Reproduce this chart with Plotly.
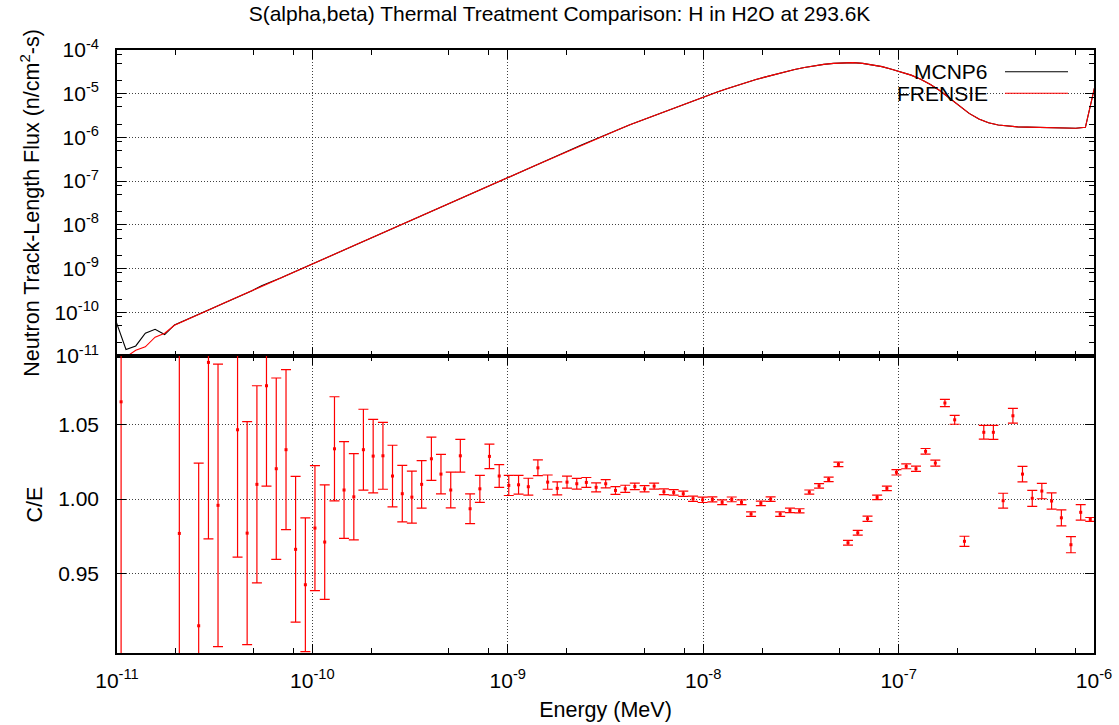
import plotly.graph_objects as go

# ---------------- data ----------------
# bin-edge energies (log10 of MeV) used for the flux curves
log10_energy_edges = [
    -11.004, -10.954, -10.904, -10.855, -10.805, -10.756, -10.706, -10.656, -10.607, -10.557,
    -10.508, -10.458, -10.408, -10.359, -10.309, -10.260, -10.210, -10.160, -10.111, -10.061,
    -10.012, -9.962, -9.912, -9.863, -9.813, -9.764, -9.714, -9.664, -9.615, -9.565,
    -9.516, -9.466, -9.416, -9.367, -9.317, -9.268, -9.218, -9.168, -9.119, -9.069,
    -9.020, -8.970, -8.920, -8.871, -8.821, -8.772, -8.722, -8.672, -8.623, -8.573,
    -8.524, -8.474, -8.424, -8.375, -8.325, -8.276, -8.226, -8.176, -8.127, -8.077,
    -8.028, -7.978, -7.928, -7.879, -7.829, -7.780, -7.730, -7.680, -7.631, -7.581,
    -7.532, -7.482, -7.432, -7.383, -7.333, -7.284, -7.234, -7.184, -7.135, -7.085,
    -7.036, -6.986, -6.936, -6.887, -6.837, -6.788, -6.738, -6.688, -6.639, -6.589,
    -6.540, -6.490, -6.440, -6.391, -6.341, -6.292, -6.242, -6.192, -6.143, -6.093,
    -6.044, -5.994,
]

# bin-centre energies (log10 of MeV) used for the C/E points
log10_energy_mid = [
    -10.979, -10.929, -10.879, -10.830, -10.780, -10.731, -10.681, -10.631, -10.582, -10.532,
    -10.483, -10.433, -10.383, -10.334, -10.284, -10.235, -10.185, -10.135, -10.086, -10.036,
    -9.987, -9.937, -9.887, -9.838, -9.788, -9.739, -9.689, -9.639, -9.590, -9.540,
    -9.491, -9.441, -9.391, -9.342, -9.292, -9.243, -9.193, -9.143, -9.094, -9.044,
    -8.995, -8.945, -8.895, -8.846, -8.796, -8.747, -8.697, -8.647, -8.598, -8.548,
    -8.499, -8.449, -8.399, -8.350, -8.300, -8.251, -8.201, -8.151, -8.102, -8.052,
    -8.003, -7.953, -7.903, -7.854, -7.804, -7.755, -7.705, -7.655, -7.606, -7.556,
    -7.507, -7.457, -7.407, -7.358, -7.308, -7.259, -7.209, -7.159, -7.110, -7.060,
    -7.011, -6.961, -6.911, -6.862, -6.812, -6.763, -6.713, -6.663, -6.614, -6.564,
    -6.515, -6.465, -6.415, -6.366, -6.316, -6.267, -6.217, -6.167, -6.118, -6.068,
    -6.019,
]

flux_mcnp6 = [
    6.0e-11, 1.41e-11, 1.70e-11, 3.31e-11, 4.07e-11, 3.09e-11, 5.13e-11, 6.43e-11, 8.05e-11, 1.01e-10,
    1.26e-10, 1.58e-10, 1.99e-10, 2.55e-10, 3.12e-10, 4.05e-10, 4.90e-10, 6.14e-10, 7.69e-10, 9.64e-10,
    1.21e-9, 1.51e-9, 1.90e-9, 2.38e-9, 2.98e-9, 3.73e-9, 4.68e-9, 5.86e-9, 7.35e-9, 9.20e-9,
    1.15e-8, 1.45e-8, 1.81e-8, 2.27e-8, 2.84e-8, 3.56e-8, 4.47e-8, 5.60e-8, 7.01e-8, 8.79e-8,
    1.10e-7, 1.38e-7, 1.73e-7, 2.17e-7, 2.72e-7, 3.40e-7, 4.27e-7, 5.35e-7, 6.70e-7, 8.39e-7,
    1.05e-6, 1.29e-6, 1.58e-6, 1.95e-6, 2.37e-6, 2.88e-6, 3.51e-6, 4.27e-6, 5.19e-6, 6.31e-6,
    7.59e-6, 9.12e-6, 1.10e-5, 1.30e-5, 1.55e-5, 1.82e-5, 2.11e-5, 2.43e-5, 2.79e-5, 3.16e-5,
    3.59e-5, 3.98e-5, 4.37e-5, 4.68e-5, 4.95e-5, 5.13e-5, 5.13e-5, 4.95e-5, 4.62e-5, 4.17e-5,
    3.63e-5, 3.13e-5, 2.66e-5, 2.14e-5, 1.62e-5, 1.17e-5, 7.94e-6, 5.25e-6, 3.55e-6, 2.63e-6,
    2.16e-6, 1.93e-6, 1.80e-6, 1.74e-6, 1.72e-6, 1.70e-6, 1.68e-6, 1.66e-6, 1.62e-6, 1.62e-6,
    1.70e-6, 1.6e-5,
]

flux_frensie = [
    5.0e-12, 9.5e-12, 1.35e-11, 1.62e-11, 2.69e-11, 3.31e-11, 5.05e-11, 6.43e-11, 8.05e-11, 1.01e-10,
    1.26e-10, 1.58e-10, 1.99e-10, 2.45e-10, 3.12e-10, 3.85e-10, 4.90e-10, 6.14e-10, 7.69e-10, 9.64e-10,
    1.21e-9, 1.51e-9, 1.90e-9, 2.38e-9, 2.98e-9, 3.73e-9, 4.68e-9, 5.86e-9, 7.35e-9, 9.20e-9,
    1.15e-8, 1.45e-8, 1.81e-8, 2.27e-8, 2.84e-8, 3.56e-8, 4.47e-8, 5.60e-8, 7.01e-8, 8.79e-8,
    1.10e-7, 1.38e-7, 1.73e-7, 2.17e-7, 2.72e-7, 3.40e-7, 4.27e-7, 5.35e-7, 6.70e-7, 8.39e-7,
    1.05e-6, 1.29e-6, 1.58e-6, 1.95e-6, 2.37e-6, 2.88e-6, 3.51e-6, 4.27e-6, 5.19e-6, 6.31e-6,
    7.59e-6, 9.12e-6, 1.10e-5, 1.30e-5, 1.55e-5, 1.82e-5, 2.11e-5, 2.43e-5, 2.79e-5, 3.16e-5,
    3.59e-5, 3.98e-5, 4.37e-5, 4.68e-5, 4.95e-5, 5.13e-5, 5.13e-5, 4.95e-5, 4.62e-5, 4.17e-5,
    3.63e-5, 3.13e-5, 2.66e-5, 2.14e-5, 1.62e-5, 1.17e-5, 7.94e-6, 5.25e-6, 3.55e-6, 2.63e-6,
    2.16e-6, 1.93e-6, 1.80e-6, 1.74e-6, 1.72e-6, 1.70e-6, 1.68e-6, 1.66e-6, 1.62e-6, 1.62e-6,
    1.70e-6, 1.6e-5,
]

# C/E ratio and its 1-sigma uncertainty (None = point outside the plotted range)
ratio_ce = [
    1.0654, None, None, None, None, None, 0.9769, None, 0.9148, 1.0919,
    0.9958, None, 1.0466, 0.9771, 1.0099, 1.0762, 1.0204, 1.0332, 0.9662, 0.9424,
    0.9805, 0.9711, 1.0338, 1.0061, 1.0015, 1.0332, 1.0289, 1.0291, 1.0155, 1.0036,
    1.0013, 1.0099, 1.0271, 1.0168, 1.0061, 1.0291, 0.9935, 1.0069, 1.0287, 1.0155,
    1.0092, 1.0096, 1.0083, 1.0210, 1.0114, 1.0072, 1.0114, 1.0103, 1.0112, 1.0079,
    1.0103, 1.0058, 1.0069, 1.0085, 1.0069, 1.0087, 1.0049, 1.0045, 1.0036, 1.0002,
    0.9995, 0.9998, 0.9978, 0.9998, 0.9978, 0.9899, 0.9971, 1.0000, 0.9899, 0.9924,
    0.9921, 1.0047, 1.0089, 1.0132, 1.0233, 0.9706, 0.9773, 0.9868, 1.0011, 1.0072,
    1.0180, 1.0220, 1.0204, 1.0321, 1.0242, 1.0646, 1.0533, 0.9716, None, 1.0449,
    1.0449, 0.9989, 1.0560, 1.0168, 1.0005, 1.0054, 0.9987, 0.9874, 0.9693, 0.9911,
    0.9863,
]

ratio_err = [
    0.30, 0, 0, 0, 0, 0, 0.25, 0, 0.1094, 0.1186,
    0.095, 0, 0.0856, 0.075, 0.0663, 0.0675, 0.061, 0.0538, 0.049, 0.045,
    0.042, 0.0385, 0.035, 0.0325, 0.029, 0.0272, 0.0247, 0.0225, 0.0207, 0.019,
    0.0175, 0.016, 0.0145, 0.0133, 0.012, 0.011, 0.010, 0.0091, 0.0082, 0.0076,
    0.0068, 0.0063, 0.0057, 0.0053, 0.0048, 0.0044, 0.0040, 0.0036, 0.0033, 0.0030,
    0.0028, 0.0026, 0.0024, 0.0022, 0.0021, 0.0020, 0.0019, 0.0018, 0.0018, 0.0018,
    0.0018, 0.0017, 0.0016, 0.0016, 0.0016, 0.0015, 0.0015, 0.0015, 0.0015, 0.0015,
    0.0014, 0.0014, 0.0015, 0.0015, 0.0015, 0.0016, 0.0016, 0.0018, 0.0015, 0.0015,
    0.0018, 0.0016, 0.0018, 0.0019, 0.0020, 0.0024, 0.0030, 0.0034, 0, 0.0046,
    0.0047, 0.0050, 0.0050, 0.0052, 0.0054, 0.0052, 0.0054, 0.0054, 0.0054, 0.0052,
    0.0013,
]

flux_tick_exponents = [-11, -10, -9, -8, -7, -6, -5, -4]
energy_tick_exponents = [-11, -10, -9, -8, -7, -6]
ce_ticks = [0.95, 1.00, 1.05]
ce_tick_labels = ["0.95", "1.00", "1.05"]

series_names = ["MCNP6", "FRENSIE"]
series_colors = ["#000000", "#ff0000"]

# ---------------- figure ----------------
energy_edges = [10 ** e for e in log10_energy_edges]
energy_mid = [10 ** e for e in log10_energy_mid]

FONT = "Liberation Sans, Arial, Helvetica, sans-serif"
TITLE_FONT = dict(family=FONT, size=21.5, color="black")
GRID = dict(showgrid=True, gridcolor="rgba(0,0,0,0.75)", gridwidth=1, griddash="1px,2px")
AX = dict(showline=True, linecolor="black", linewidth=1.6, mirror="ticks",
          ticks="inside", ticklen=9, tickwidth=1, tickcolor="black", zeroline=False)

def minor_vals(exps):
    return [m * 10.0 ** p for p in exps[:-1] for m in (2, 5, 8)]

fig = go.Figure()
fig.add_trace(go.Scatter(x=energy_edges, y=flux_mcnp6, mode="lines", name=series_names[0],
                         line=dict(color=series_colors[0], width=1.1), xaxis="x", yaxis="y",
                         showlegend=False))
fig.add_trace(go.Scatter(x=energy_edges, y=flux_frensie, mode="lines", name=series_names[1],
                         line=dict(color=series_colors[1], width=1.1), xaxis="x", yaxis="y",
                         showlegend=False))
fig.add_trace(go.Scatter(x=energy_mid, y=ratio_ce, mode="markers", name="C/E",
                         marker=dict(symbol="square", size=3, color="#ff0000"),
                         error_y=dict(type="data", array=ratio_err, visible=True,
                                      color="#ff0000", thickness=1.2, width=5),
                         xaxis="x2", yaxis="y2", showlegend=False))

split = 297 / 603

fig.update_layout(
    width=1119, height=725,
    margin=dict(l=117, r=25, t=50, b=72, autoexpand=False),
    paper_bgcolor="white", plot_bgcolor="white",
    font=dict(family=FONT, size=21, color="black"),
    title=dict(text="S(alpha,beta) Thermal Treatment Comparison: H in H2O at 293.6K",
               x=0.5, xref="container", xanchor="center",
               y=1 - 14 / 725, yref="container", yanchor="middle",
               font=dict(family=FONT, size=21, color="black")),
    xaxis=dict(type="log", range=[-11, -6], domain=[0, 1], anchor="y",
               tickvals=[10.0 ** p for p in energy_tick_exponents], showticklabels=False,
               minor=dict(tickmode="array", tickvals=minor_vals(energy_tick_exponents),
                          ticks="inside", ticklen=5, tickcolor="black", showgrid=False),
               **GRID, **AX),
    yaxis=dict(type="log", range=[-11, -4], domain=[split, 1], anchor="x",
               tickvals=[10.0 ** p for p in flux_tick_exponents],
               ticktext=["10<sup>%d</sup>" % p for p in flux_tick_exponents],
               ticklabelstandoff=12,
               minor=dict(tickmode="array", tickvals=minor_vals(flux_tick_exponents),
                          ticks="inside", ticklen=5, tickcolor="black", showgrid=False),
               title=dict(text="Neutron Track-Length Flux (n/cm<sup>2</sup>-s)", standoff=9,
                          font=TITLE_FONT),
               **GRID, **AX),
    xaxis2=dict(type="log", range=[-11, -6], domain=[0, 1], anchor="y2", matches="x",
                tickvals=[10.0 ** p for p in energy_tick_exponents],
                ticktext=["10<sup>%d</sup>" % p for p in energy_tick_exponents],
                ticklabelstandoff=8,
                minor=dict(tickmode="array", tickvals=minor_vals(energy_tick_exponents),
                           ticks="inside", ticklen=5, tickcolor="black", showgrid=False),
                title=dict(text="Energy (MeV)", standoff=11, font=TITLE_FONT),
                **GRID, **AX),
    yaxis2=dict(range=[0.8965, 1.0962], domain=[0, split], anchor="x2",
                tickvals=ce_ticks, ticktext=ce_tick_labels, ticklabelstandoff=12,
                title=dict(text="C/E", standoff=10, font=TITLE_FONT),
                **GRID, **AX),
)

# key drawn like the original: label to the left of the line sample
key_y = [1 - (71.7 - 50) / 603, 1 - (93.3 - 50) / 603]
for name, color, ky in zip(series_names, series_colors, key_y):
    fig.add_annotation(text=name, xref="paper", yref="paper", x=(990 - 117) / 977, y=ky,
                       xanchor="right", yanchor="middle", showarrow=False,
                       font=dict(family=FONT, size=21, color="black"))
    fig.add_shape(type="line", xref="paper", yref="paper",
                  x0=(1005 - 117) / 977, x1=(1068 - 117) / 977, y0=ky, y1=ky,
                  line=dict(color=color, width=1.1))

fig.write_html("out.html")
